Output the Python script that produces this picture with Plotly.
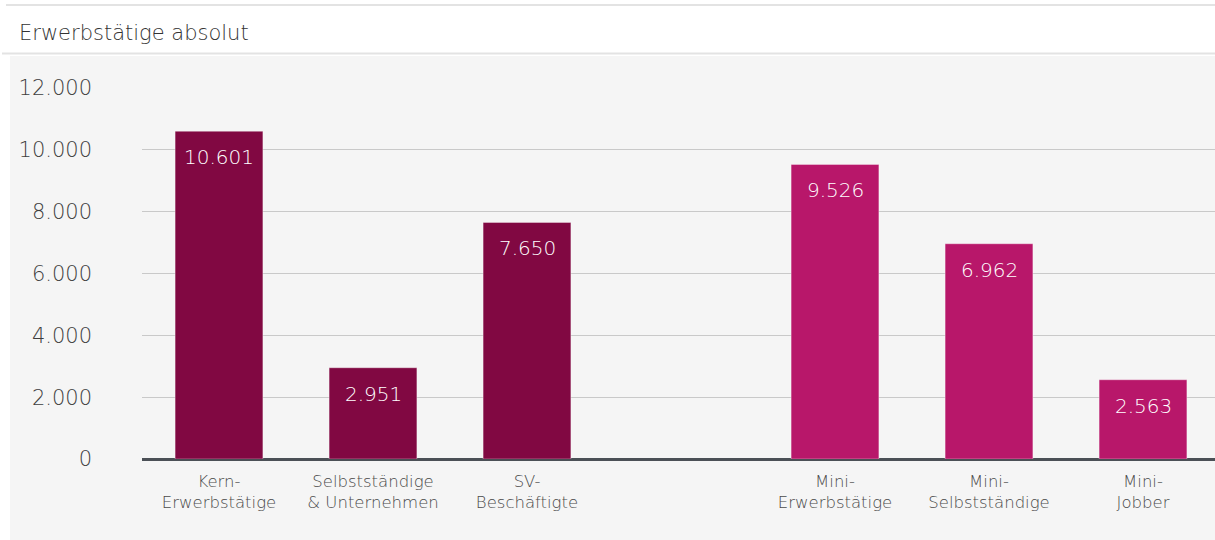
import plotly.graph_objects as go

categories = ["Kern-<br>Erwerbstätige", "Selbstständige<br>& Unternehmen", "SV-<br>Beschäftigte", "",
              "Mini-<br>Erwerbstätige", "Mini-<br>Selbstständige", "Mini-<br>Jobber"]
values = [10601, 2951, 7650, None, 9526, 6962, 2563]
group_colors = ["#810842", "#810842", "#810842", "#810842", "#b8176a", "#b8176a", "#b8176a"]
tick_values = [0, 2000, 4000, 6000, 8000, 10000, 12000]
title_text = "Erwerbstätige absolut"

FONT = "DejaVu Sans"
WT = 300
xs = list(range(len(categories)))
bx = [x for x, v in zip(xs, values) if v is not None]
bv = [v for v in values if v is not None]
bc = [c for c, v in zip(group_colors, values) if v is not None]

W, H = 1215, 540
ml, mr, mt, mb = 142, 0, 88, 81
pw, ph = W - ml - mr, H - mt - mb

def px_x(p):
    return (p - ml) / pw

def px_y(p):
    return (H - mb - p) / ph

fig = go.Figure()
fig.add_trace(go.Bar(
    x=bx, y=bv, width=0.57,
    marker=dict(color=bc, line=dict(color="rgba(255,255,255,0.35)", width=1)),
    hoverinfo="skip", showlegend=False,
))

def fmt(v):
    return f"{v:,}".replace(",", ".")

annotations = []
for x, v in zip(bx, bv):
    annotations.append(dict(x=x, y=v, xref="x", yref="y", text=fmt(v), showarrow=False,
                            yanchor="middle", yshift=-26,
                            font=dict(family=FONT, size=20, color="white", weight=WT)))
annotations.append(dict(x=px_x(17), y=px_y(33), xref="paper", yref="paper", text=title_text,
                        showarrow=False, xanchor="left", yanchor="middle",
                        font=dict(family=FONT, size=21, color="#333333", weight=WT)))

shapes = [
    dict(type="rect", xref="paper", yref="paper", x0=px_x(10), x1=px_x(1216), y0=px_y(541), y1=px_y(56),
         fillcolor="#f5f5f5", line=dict(width=0), layer="below"),
    dict(type="line", xref="paper", yref="paper", x0=px_x(6), x1=px_x(1216), y0=px_y(5), y1=px_y(5),
         line=dict(color="#e3e3e3", width=2)),
    dict(type="line", xref="paper", yref="paper", x0=px_x(2), x1=px_x(1216), y0=px_y(53.5), y1=px_y(53.5),
         line=dict(color="#e3e3e3", width=2)),
]

slot = 154
fig.update_layout(
    width=W, height=H,
    margin=dict(l=ml, r=mr, t=mt, b=mb),
    paper_bgcolor="white", plot_bgcolor="rgba(0,0,0,0)",
    separators=",.",
    font=dict(family=FONT),
    annotations=annotations, shapes=shapes,
    xaxis=dict(range=[-0.5, -0.5 + pw / slot], tickmode="array", tickvals=xs, ticktext=categories,
               showgrid=False, zeroline=False, showline=False, ticks="", ticklabelstandoff=10,
               tickfont=dict(family=FONT, size=16.5, color="#4a4a4a", weight=WT), fixedrange=True),
    yaxis=dict(range=[0, 12000], tickmode="array", tickvals=tick_values, tickformat=",d",
               showgrid=True, gridcolor="#c9c9c9", gridwidth=1,
               zeroline=True, zerolinecolor="#4b5056", zerolinewidth=2.5,
               showline=False, ticks="", ticklabelstandoff=49,
               tickfont=dict(family=FONT, size=21, color="#3e3e3e", weight=WT), fixedrange=True),
    bargap=0.43,
)

fig.write_html("out.html", config={"displayModeBar": False},
               post_script="document.body.style.margin='0px';")
